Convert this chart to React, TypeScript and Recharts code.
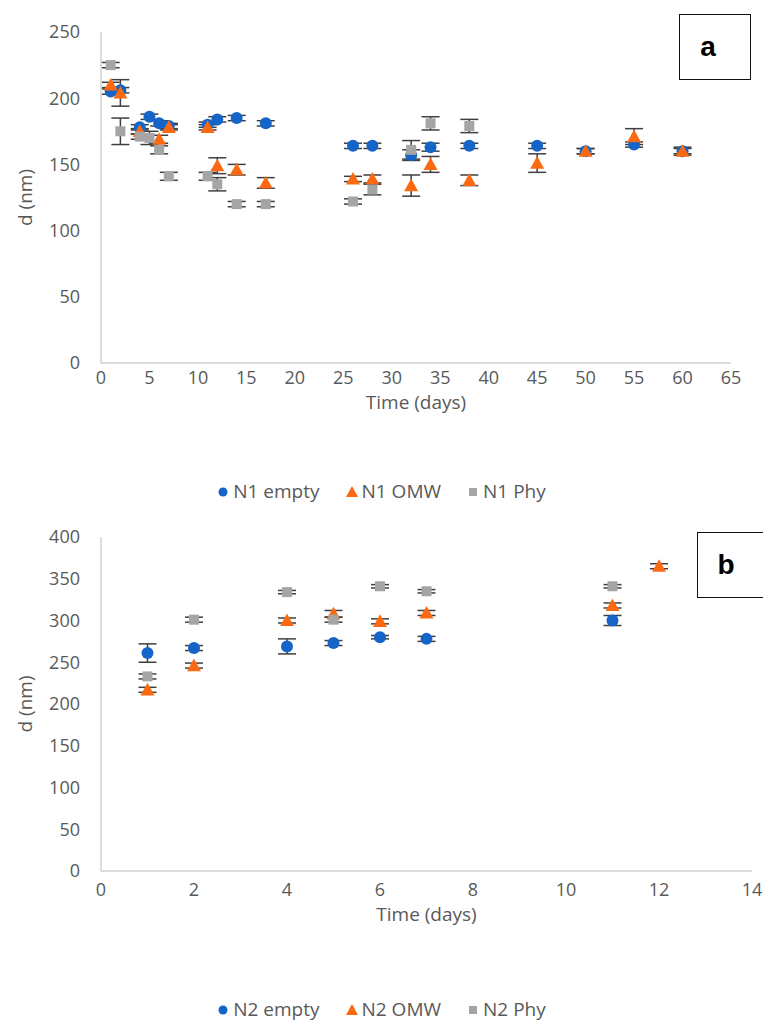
import React from "react";
import { ScatterChart, Scatter, XAxis, YAxis, ErrorBar, Legend } from "recharts";

const BLUE = "#1565c9";
const ORANGE = "#fb6a12";
const GRAY = "#a5a5a5";
const BAR = "#3f3f3f";
const AXIS = "#d0d0d0";
const TEXT = "#595959";
const FONT = "'Open Sans', sans-serif";

// panel a: N1 samples over 60 days
const N1_EMPTY_DAY = [1, 2, 4, 5, 6, 7, 11, 12, 14, 17, 26, 28, 32, 34, 38, 45, 50, 55, 60];
const N1_EMPTY_D = [205, 206, 178, 186, 181, 179, 180, 184, 185, 181, 164, 164, 157, 163, 164, 164, 160, 165, 160];
const N1_EMPTY_ERR = [2, 2, 2, 2, 2, 2, 2, 2, 2, 2, 2, 2, 4, 3, 2, 2, 2, 2, 2];

const N1_OMW_DAY = [1, 2, 4, 6, 7, 11, 12, 14, 17, 26, 28, 32, 34, 38, 45, 50, 55, 60];
const N1_OMW_D = [210, 204, 175, 169, 178, 178, 149, 146, 136, 139, 139, 134, 150, 138, 151, 160, 171, 160];
const N1_OMW_ERR = [2, 10, 2, 3, 2, 2, 6, 4, 4, 2, 3, 8, 6, 4, 7, 2, 6, 3];

const N1_PHY_DAY = [1, 2, 4, 5, 6, 7, 11, 12, 14, 17, 26, 28, 32, 34, 38];
const N1_PHY_D = [225, 175, 171, 170, 161, 141, 141, 135, 120, 120, 122, 131, 161, 181, 179];
const N1_PHY_ERR = [2, 10, 2, 5, 3, 3, 3, 5, 2, 2, 2, 4, 7, 5, 5];

// panel b: N2 samples over 12 days
const N2_EMPTY_DAY = [1, 2, 4, 5, 6, 7, 11];
const N2_EMPTY_D = [261, 267, 269, 273, 280, 278, 300];
const N2_EMPTY_ERR = [11, 3, 9, 3, 2, 3, 6];

const N2_OMW_DAY = [1, 2, 4, 5, 6, 7, 11, 12];
const N2_OMW_D = [217, 246, 300, 308, 299, 309, 318, 365];
const N2_OMW_ERR = [3, 3, 3, 4, 3, 3, 3, 3];

const N2_PHY_DAY = [1, 2, 4, 5, 6, 7, 11];
const N2_PHY_D = [233, 301, 334, 301, 341, 335, 341];
const N2_PHY_ERR = [3, 3, 2, 3, 2, 2, 2];

const A_X_TICKS = [0, 5, 10, 15, 20, 25, 30, 35, 40, 45, 50, 55, 60, 65];
const A_Y_TICKS = [0, 50, 100, 150, 200, 250];
const B_X_TICKS = [0, 2, 4, 6, 8, 10, 12, 14];
const B_Y_TICKS = [0, 50, 100, 150, 200, 250, 300, 350, 400];

const zip = (days: number[], d: number[], err: number[]) =>
  days.map((x, i) => ({ x, y: d[i], err: err[i] }));

const circle = (color: string, r: number) => (p: any) =>
  <circle cx={p.cx} cy={p.cy} r={r} fill={color} />;
const triangle = (color: string, s: number) => (p: any) =>
  <polygon
    points={`${p.cx},${p.cy - s} ${p.cx + s},${p.cy + s * 0.8} ${p.cx - s},${p.cy + s * 0.8}`}
    fill={color}
  />;
const square = (color: string, s: number) => (p: any) =>
  <rect x={p.cx - s} y={p.cy - s} width={s * 2} height={s * 2} fill={color} />;

const legendIcon = (type: string, color: string) => {
  if (type === "triangle") return <polygon points="6,1 12,12 0,12" fill={color} />;
  if (type === "square") return <rect x={2} y={3} width={8} height={8} fill={color} />;
  return <circle cx={6} cy={7} r={4.5} fill={color} />;
};

const legendFor = (names: string[]) => (props: any) => {
  const items = [...(props.payload || [])].sort(
    (a: any, b: any) => names.indexOf(a.value) - names.indexOf(b.value)
  );
  return (
    <div style={{ display: "flex", justifyContent: "center", fontFamily: FONT, fontSize: 19, color: TEXT }}>
      {items.map((e: any) => (
        <span key={e.value} style={{ display: "inline-flex", alignItems: "center", margin: "0 13px" }}>
          <svg width={12} height={13} style={{ marginRight: 4 }}>
            {legendIcon(e.type, e.color)}
          </svg>
          {e.value}
        </span>
      ))}
    </div>
  );
};

const tickStyle = { fill: TEXT, fontSize: 18, fontFamily: FONT };
const titleStyle = { fill: TEXT, fontSize: 19, fontFamily: FONT };

function Panel(props: any) {
  const { top, height, margin, xMax, xTicks, yMax, yTicks, names, sets, xTickGap, titleGap, legendTop, tag, tagLeft, tagTop } = props;
  const shapes = [circle(BLUE, 6), triangle(ORANGE, 7), square(GRAY, 5)];
  const colors = [BLUE, ORANGE, GRAY];
  const legendTypes = ["circle", "triangle", "square"];
  return (
    <div style={{ position: "absolute", left: 0, top, width: 763, height }}>
      <ScatterChart width={763} height={height} margin={margin}>
        <XAxis
          type="number"
          dataKey="x"
          domain={[0, xMax]}
          ticks={xTicks}
          interval={0}
          tickLine={false}
          tickMargin={xTickGap}
          axisLine={{ stroke: AXIS, strokeWidth: 1.5 }}
          tick={tickStyle}
          height={60}
          label={{ value: "Time (days)", position: "insideTop", offset: titleGap, style: titleStyle }}
        />
        <YAxis
          type="number"
          dataKey="y"
          domain={[0, yMax]}
          ticks={yTicks}
          interval={0}
          tickLine={false}
          tickMargin={15}
          width={101}
          axisLine={{ stroke: AXIS, strokeWidth: 1.5 }}
          tick={tickStyle}
          label={{ value: "d (nm)", angle: -90, position: "insideLeft", offset: 25, style: { ...titleStyle, textAnchor: "middle" } }}
        />
        {sets.map((data: any[], i: number) => (
          <Scatter
            key={names[i]}
            name={names[i]}
            data={data}
            fill={colors[i]}
            legendType={legendTypes[i] as any}
            shape={shapes[i]}
            isAnimationActive={false}
          >
            <ErrorBar dataKey="err" direction="y" width={9} stroke={BAR} strokeWidth={1.5} />
          </Scatter>
        ))}
        <Legend
          verticalAlign="middle"
          layout="horizontal"
          content={legendFor(names)}
          wrapperStyle={{ top: legendTop, left: 0, width: 763 }}
        />
      </ScatterChart>
      <div
        style={{
          position: "absolute",
          left: tagLeft,
          top: tagTop,
          width: 72,
          height: 66,
          boxSizing: "border-box",
          border: "1.5px solid #111",
          display: "flex",
          alignItems: "center",
          justifyContent: "center",
          paddingRight: 14,
          fontFamily: "'Liberation Sans', Arial, sans-serif",
          fontWeight: "bold",
          fontSize: 28,
          color: "#000",
          background: "#fff",
        }}
      >
        {tag}
      </div>
    </div>
  );
}

export default function App() {
  return (
    <div style={{ position: "absolute", left: 0, top: 0, width: 763, height: 1021, overflow: "hidden", background: "#fff" }}>
      <Panel
        top={0}
        height={520}
        margin={{ top: 32, right: 32, left: 0, bottom: 97 }}
        xMax={65}
        xTicks={A_X_TICKS}
        yMax={250}
        yTicks={A_Y_TICKS}
        names={["N1 empty", "N1 OMW", "N1 Phy"]}
        sets={[
          zip(N1_EMPTY_DAY, N1_EMPTY_D, N1_EMPTY_ERR),
          zip(N1_OMW_DAY, N1_OMW_D, N1_OMW_ERR),
          zip(N1_PHY_DAY, N1_PHY_D, N1_PHY_ERR),
        ]}
        xTickGap={2}
        titleGap={33}
        legendTop={478}
        tag="a"
        tagLeft={679}
        tagTop={14}
      />
      <Panel
        top={520}
        height={501}
        margin={{ top: 17, right: 11, left: 0, bottom: 90 }}
        xMax={14}
        xTicks={B_X_TICKS}
        yMax={400}
        yTicks={B_Y_TICKS}
        names={["N2 empty", "N2 OMW", "N2 Phy"]}
        sets={[
          zip(N2_EMPTY_DAY, N2_EMPTY_D, N2_EMPTY_ERR),
          zip(N2_OMW_DAY, N2_OMW_D, N2_OMW_ERR),
          zip(N2_PHY_DAY, N2_PHY_D, N2_PHY_ERR),
        ]}
        xTickGap={6}
        titleGap={37}
        legendTop={476}
        tag="b"
        tagLeft={697}
        tagTop={12}
      />
    </div>
  );
}
